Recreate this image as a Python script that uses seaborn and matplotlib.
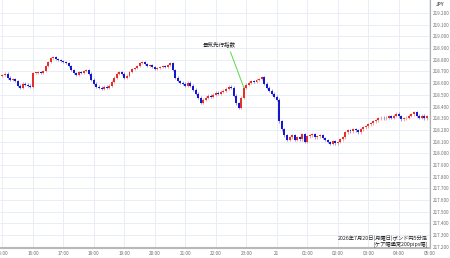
import numpy as np
import pandas as pd
import matplotlib
matplotlib.use("Agg")
import matplotlib.pyplot as plt
import seaborn as sns

# ---- data (GBP/JPY 5-minute candles) ----
first_open = 218.660
closes = [
    218.672, 218.681, 218.647, 218.630, 218.638, 218.621,
    218.579, 218.562, 218.596,
    218.587, 218.579, 218.570, 218.689,
    218.689, 218.698, 218.689, 218.706,
    218.749, 218.783, 218.817,
    218.826, 218.809, 218.800,
    218.791, 218.783, 218.774,
    218.749, 218.715, 218.689, 218.672,
    218.698, 218.689, 218.706, 218.715,
    218.681, 218.630, 218.596, 218.570,
    218.562, 218.553, 218.570, 218.562,
    218.579, 218.613, 218.647, 218.681, 218.698,
    218.681, 218.647, 218.664,
    218.698, 218.723, 218.732, 218.749, 218.774, 218.783,
    218.766, 218.749, 218.757,
    218.740, 218.723, 218.732, 218.740, 218.749, 218.740, 218.757,
    218.774, 218.715,
    218.647, 218.621,
    218.604, 218.596, 218.579, 218.604, 218.579,
    218.545, 218.511, 218.477, 218.434,
    218.460, 218.477, 218.494, 218.485, 218.502, 218.519, 218.511,
    218.528, 218.536, 218.553, 218.570, 218.562,
    218.494, 218.426, 218.391,
    218.477, 218.562, 218.587,
    218.604, 218.621, 218.613, 218.630, 218.638,
    218.655,
    218.596, 218.562, 218.536, 218.511, 218.485, 218.460,
    218.272,
    218.204, 218.153,
    218.111, 218.136,
    218.153, 218.111, 218.136, 218.119, 218.162, 218.094,
    218.145, 218.153, 218.162, 218.136, 218.145, 218.153, 218.128, 218.111,
    218.094, 218.077, 218.102, 218.085, 218.094,
    218.119, 218.136, 218.179, 218.196,
    218.187, 218.204, 218.196, 218.179,
    218.204, 218.221, 218.230, 218.247, 218.255, 218.272, 218.281, 218.298,
    218.306, 218.298, 218.306, 218.315, 218.306, 218.323,
    218.340, 218.315, 218.289,
    218.298, 218.306,
    218.323, 218.332, 218.349, 218.323,
    218.306, 218.323, 218.298, 218.315,
]
hour_labels = ["15:00", "16:00", "17:00", "18:00", "19:00", "20:00", "21:00",
               "22:00", "23:00", "21", "01:00", "02:00", "03:00", "04:00", "05:00"]
price_ticks = [217.2, 217.3, 217.4, 217.5, 217.6, 217.7, 217.8, 217.9, 218.0,
               218.1, 218.2, 218.3, 218.4, 218.5, 218.6, 218.7, 218.8, 218.9,
               219.0, 219.1, 219.2]
event_label = "景気先行指数"
event_index = 95
caption_lines = ["2026年7月20日(月曜日)ポンド円5分足", "[ケア幅通常200pips幅]"]
currency = "JPY"

# ---- build table ----
opens = [first_open] + closes[:-1]
df = pd.DataFrame({"i": np.arange(len(closes)), "open": opens, "close": closes})
df["up"] = df["close"] >= df["open"]
wick = 0.010
df["high"] = df[["open", "close"]].max(axis=1) + wick
df["low"] = df[["open", "close"]].min(axis=1) - wick

sns.set_theme(style="white")
plt.rcParams["font.family"] = ["Noto Sans CJK JP", "DejaVu Sans"]

UP = "#e4302c"
DOWN = "#1616d0"
GRID = "#e9eef6"

fig = plt.figure(figsize=(4.5, 2.58), dpi=100)
ax = fig.add_axes([0.0, 10.0 / 258, 430.0 / 450, 248.0 / 258])

colors = np.where(df["up"], UP, DOWN)
ax.vlines(df["i"], df["low"], df["high"], colors=colors, linewidth=0.5, alpha=0.6, zorder=3)
body_h = (df["close"] - df["open"]).abs().clip(lower=0.005)
body_b = df[["open", "close"]].min(axis=1)
ax.bar(df["i"], body_h, bottom=body_b, width=0.78, color=colors, linewidth=0, zorder=4)

hour_pos = np.arange(0, 12 * len(hour_labels), 12)
ax.set_xticks(hour_pos)
ax.set_xticklabels(hour_labels)
ax.set_xlim(-0.98, 168.3)
ax.set_ylim(217.19, 219.311)

ax.grid(False)
for x in hour_pos:
    ax.axvline(x, color=GRID, linewidth=0.7, zorder=1)
for y in price_ticks:
    ax.axhline(y, color=GRID, linewidth=0.7, zorder=1)

ax.yaxis.tick_right()
ax.set_yticks(price_ticks)
ax.set_yticklabels([f"{v:.3f}" for v in price_ticks])
ax.tick_params(axis="y", labelsize=3.3, length=0, pad=2)
ax.tick_params(axis="x", labelsize=3.4, length=0, pad=2.5)
for lab in ax.get_xticklabels() + ax.get_yticklabels():
    lab.set_color("#707070")

for s in ["top", "left"]:
    ax.spines[s].set_visible(False)
ax.spines["right"].set_color("#b0b0b0")
ax.spines["right"].set_linewidth(0.8)
ax.spines["bottom"].set_color("#b8b8b8")
ax.spines["bottom"].set_linewidth(1.5)

fig.text(436 / 450, 1 - 5 / 258, currency, fontsize=3.4, color="#606060",
         ha="left", va="center", fontweight="bold")

ax.annotate(event_label, xy=(event_index, closes[event_index]), xytext=(-18, 29),
            textcoords="offset points", fontsize=4, color="#222222", ha="center", va="bottom",
            arrowprops=dict(arrowstyle="-", color="#5fd64a", linewidth=0.7,
                            relpos=(0.8, 0.0), shrinkA=1, shrinkB=0))

fig.text(428 / 450, 1 - 238 / 258, caption_lines[0], fontsize=3.8, color="#202020",
         ha="right", va="center")
fig.text(428 / 450, 1 - 244.5 / 258, caption_lines[1], fontsize=3.8, color="#202020",
         ha="right", va="center")

fig.savefig("out.png", dpi=100)
